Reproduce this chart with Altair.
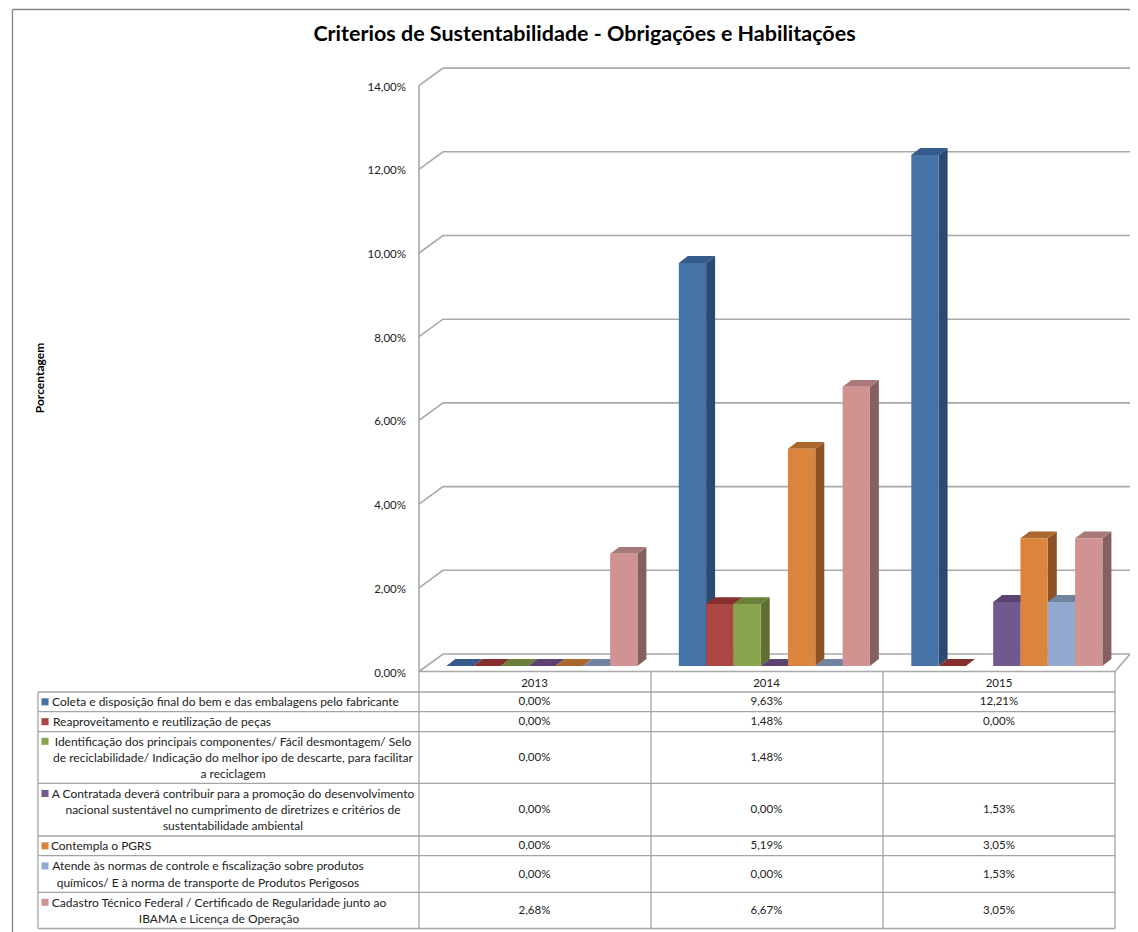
import altair as alt
import pandas as pd

TITLE = "Criterios de Sustentabilidade - Obrigações e Habilitações"
Y_TITLE = "Porcentagem"
YEARS = ["2013", "2014", "2015"]
TICKS = [0, 2, 4, 6, 8, 10, 12, 14]

COLETA = [0.00, 9.63, 12.21]
REAPROV = [0.00, 1.48, 0.00]
IDENTIF = [0.00, 1.48, None]
CONTRATADA = [0.00, 0.00, 1.53]
PGRS = [0.00, 5.19, 3.05]
NORMAS = [0.00, 0.00, 1.53]
CADASTRO = [2.68, 6.67, 3.05]
SERIES = [COLETA, REAPROV, IDENTIF, CONTRATADA, PGRS, NORMAS, CADASTRO]

LABELS = [
    ["Coleta e disposição final do bem e das embalagens pelo fabricante"],
    ["Reaproveitamento e reutilização de peças"],
    [" Identificação dos principais componentes/ Fácil desmontagem/ Selo",
     "de reciclabilidade/ Indicação do melhor ipo de descarte, para facilitar",
     "a reciclagem"],
    ["A Contratada deverá contribuir para a promoção do desenvolvimento",
     "nacional sustentável no cumprimento de diretrizes e critérios de",
     "sustentabilidade ambiental"],
    ["Contempla o PGRS"],
    ["Atende às normas de controle e fiscalização sobre produtos",
     "químicos/ E à norma de transporte de Produtos Perigosos"],
    ["Cadastro Técnico Federal / Certificado de Regularidade junto ao",
     "IBAMA e Licença de Operação"],
]

FRONT = ["#4572A7", "#AA4643", "#89A54E", "#71588F", "#DB843D", "#93A9CF", "#D19392"]
SIDE = ["#2C4A70", "#7A3230", "#5D6F33", "#4E3C64", "#8C5426", "#6B7C98", "#866060"]
TOP = ["#365A8B", "#872F2E", "#6A8038", "#5B4271", "#AC672E", "#7283A2", "#A97878"]

# ---- layout (pixels of the page) ----
W, H = 1122, 924
X_END, Y_END = 8 + W, 8 + H
PX_PER_UNIT = 41.85
BASE_Y = 666.0
SLOT = 27.3
FIRST_X = 446.3
CAT_STEP = 232.5 / SLOT
BAR_DX = 9.0 / SLOT
BAR_DY = 6.9 / PX_PER_UNIT
FRONT_OFF = -5.5 / PX_PER_UNIT
BACK_OFF = 12.0 / PX_PER_UNIT
WALL_L = (419 - FIRST_X) / SLOT
WALL_B = (443 - FIRST_X) / SLOT
RIGHT = (X_END - FIRST_X) / SLOT
FLOOR_R = (1115 - FIRST_X) / SLOT

X_VAL = alt.Scale(domain=[(8 - FIRST_X) / SLOT, (X_END - FIRST_X) / SLOT], range=[0, W], nice=False, zero=False)
Y_VAL = alt.Scale(domain=[(BASE_Y - Y_END) / PX_PER_UNIT, (BASE_Y - 8) / PX_PER_UNIT], range=[H, 0], nice=False, zero=False)
X_PX = alt.Scale(domain=[8, X_END], range=[0, W], nice=False, zero=False)
Y_PX = alt.Scale(domain=[8, Y_END], range=[0, H], nice=False, zero=False)

FONT = "Lato"
TXT = "#222222"
GRID = "#a9a9a9"
FRAME = "#868686"
TABLE = "#a4a4a4"

# ---- 3D walls ----
wall = []
for t in TICKS:
    wall += [
        dict(id=f"g{t}", k=0, x=WALL_L, y=t + FRONT_OFF),
        dict(id=f"g{t}", k=1, x=WALL_B, y=t + BACK_OFF),
        dict(id=f"g{t}", k=2, x=RIGHT, y=t + BACK_OFF),
    ]
wall += [dict(id="v", k=0, x=WALL_L, y=FRONT_OFF), dict(id="v", k=1, x=WALL_L, y=14 + FRONT_OFF)]
wall += [
    dict(id="f", k=0, x=WALL_L, y=FRONT_OFF),
    dict(id="f", k=1, x=FLOOR_R, y=FRONT_OFF),
    dict(id="f", k=2, x=RIGHT, y=BACK_OFF),
]
wall_layer = alt.Chart(pd.DataFrame(wall)).mark_line(color=GRID, strokeWidth=1.6).encode(
    x=alt.X("x:Q", scale=X_VAL, axis=None),
    y=alt.Y("y:Q", scale=Y_VAL, axis=None),
    detail="id:N",
    order="k:Q",
)

# ---- bars: side and top faces in series order, fronts last ----
faces, fronts = [], []
for s, vals in enumerate(SERIES):
    for c, v in enumerate(vals):
        if v is None:
            continue
        x0 = c * CAT_STEP + s
        x1 = x0 + 1
        fid = f"{s}-{c}"
        faces += [
            dict(id="s" + fid, c=SIDE[s], x=x1, y=v, y2=0),
            dict(id="s" + fid, c=SIDE[s], x=x1 + BAR_DX, y=v + BAR_DY, y2=BAR_DY),
            dict(id="t" + fid, c=TOP[s], x=x0, y=v, y2=v),
            dict(id="t" + fid, c=TOP[s], x=x0 + BAR_DX, y=v + BAR_DY, y2=v),
            dict(id="t" + fid, c=TOP[s], x=x1, y=v + BAR_DY, y2=v),
            dict(id="t" + fid, c=TOP[s], x=x1 + BAR_DX, y=v + BAR_DY, y2=v + BAR_DY),
        ]
        if v > 0:
            fronts.append(dict(x=x0, x2=x1, y=v, y2=0, c=FRONT[s]))

face_layer = alt.Chart(pd.DataFrame(faces)).mark_area(opacity=1, interpolate="linear").encode(
    x=alt.X("x:Q", scale=X_VAL, axis=None),
    y=alt.Y("y:Q", scale=Y_VAL, axis=None),
    y2="y2:Q",
    fill=alt.Fill("c:N", scale=None),
    detail="id:N",
)
front_layer = alt.Chart(pd.DataFrame(fronts)).mark_rect().encode(
    x=alt.X("x:Q", scale=X_VAL, axis=None),
    x2="x2:Q",
    y=alt.Y("y:Q", scale=Y_VAL, axis=None),
    y2="y2:Q",
    fill=alt.Fill("c:N", scale=None),
)

# ---- tick labels ----
tick_df = pd.DataFrame({
    "y": [t + FRONT_OFF for t in TICKS],
    "x": [WALL_L - 13 / SLOT] * len(TICKS),
    "t": [f"{t:.2f}".replace(".", ",") + "%" for t in TICKS],
})
tick_layer = alt.Chart(tick_df).mark_text(align="right", baseline="middle", font=FONT, fontSize=11.5, color=TXT, dy=2).encode(
    x=alt.X("x:Q", scale=X_VAL, axis=None),
    y=alt.Y("y:Q", scale=Y_VAL, axis=None),
    text="t:N",
)

# ---- frame and table rules ----
ROW_Y = [692, 711.7, 731.7, 783.3, 836, 855.7, 892.3, 928.5]
COL_X = [419, 651, 883, 1115]
rules = [dict(x=12.5, x2=X_END, y=9.5, y2=9.5, c=FRAME), dict(x=12.5, x2=12.5, y=9.5, y2=Y_END, c=FRAME)]
rules += [dict(x=38, x2=1115, y=r, y2=r, c=TABLE) for r in ROW_Y]
rules.append(dict(x=38, x2=38, y=692, y2=928.5, c=TABLE))
rules += [dict(x=c, x2=c, y=671, y2=928.5, c=TABLE) for c in COL_X]
rule_layer = alt.Chart(pd.DataFrame(rules)).mark_rule(strokeWidth=1.3).encode(
    x=alt.X("x:Q", scale=X_PX, axis=None),
    x2="x2:Q",
    y=alt.Y("y:Q", scale=Y_PX, axis=None),
    y2="y2:Q",
    color=alt.Color("c:N", scale=None),
)

# ---- table text ----
COL_C = [534.5, 766.5, 999]
LABEL_C = [225.5, 162, 233, 233, 101, 208, 219]
ROW_C = [(ROW_Y[i] + ROW_Y[i + 1]) / 2 for i in range(7)]
LINE_H = 16.2
value_cells = [dict(x=COL_C[i], y=683.5, t=YEARS[i]) for i in range(3)]
label_cells = []
for r, vals in enumerate(SERIES):
    for c, v in enumerate(vals):
        if v is not None:
            value_cells.append(dict(x=COL_C[c], y=ROW_C[r], t=f"{v:.2f}".replace(".", ",") + "%"))
    n = len(LABELS[r])
    for k, line in enumerate(LABELS[r]):
        label_cells.append(dict(x=LABEL_C[r], y=ROW_C[r] + (k - (n - 1) / 2) * LINE_H, t=line))
value_layer = alt.Chart(pd.DataFrame(value_cells)).mark_text(align="center", baseline="middle", font=FONT, fontSize=11.5, color=TXT, dy=0.5).encode(
    x=alt.X("x:Q", scale=X_PX, axis=None),
    y=alt.Y("y:Q", scale=Y_PX, axis=None),
    text="t:N",
)
label_layer = alt.Chart(pd.DataFrame(label_cells)).mark_text(align="center", baseline="middle", font=FONT, fontSize=12, color=TXT, dy=0.5).encode(
    x=alt.X("x:Q", scale=X_PX, axis=None),
    y=alt.Y("y:Q", scale=Y_PX, axis=None),
    text="t:N",
)

swatches = pd.DataFrame({
    "x": [45] * 7,
    "y": [ROW_C[r] - (len(LABELS[r]) - 1) / 2 * LINE_H for r in range(7)],
    "c": FRONT,
})
swatch_layer = alt.Chart(swatches).mark_point(shape="square", filled=True, size=50, opacity=1).encode(
    x=alt.X("x:Q", scale=X_PX, axis=None),
    y=alt.Y("y:Q", scale=Y_PX, axis=None),
    color=alt.Color("c:N", scale=None),
)

# ---- titles ----
title_layer = alt.Chart(pd.DataFrame({"x": [584.5], "y": [34.5], "t": [TITLE]})).mark_text(
    align="center", baseline="middle", font=FONT, fontSize=21.5, fontWeight="bold", color="#000000"
).encode(
    x=alt.X("x:Q", scale=X_PX, axis=None),
    y=alt.Y("y:Q", scale=Y_PX, axis=None),
    text="t:N",
)
ytitle_layer = alt.Chart(pd.DataFrame({"x": [40], "y": [378], "t": [Y_TITLE]})).mark_text(
    align="center", baseline="middle", font=FONT, fontSize=12, fontWeight="bold", color="#000000", angle=270
).encode(
    x=alt.X("x:Q", scale=X_PX, axis=None),
    y=alt.Y("y:Q", scale=Y_PX, axis=None),
    text="t:N",
)

chart = alt.layer(
    rule_layer, wall_layer, face_layer, front_layer, tick_layer,
    value_layer, label_layer, swatch_layer, title_layer, ytitle_layer,
).resolve_scale(
    x="independent", y="independent", color="independent", fill="independent"
).properties(
    width=W, height=H, padding=0, background="#ffffff",
    autosize=alt.AutoSizeParams(type="none"),
).configure_view(stroke=None)

chart.save("out.html", embed_options={"renderer": "svg", "actions": False})
